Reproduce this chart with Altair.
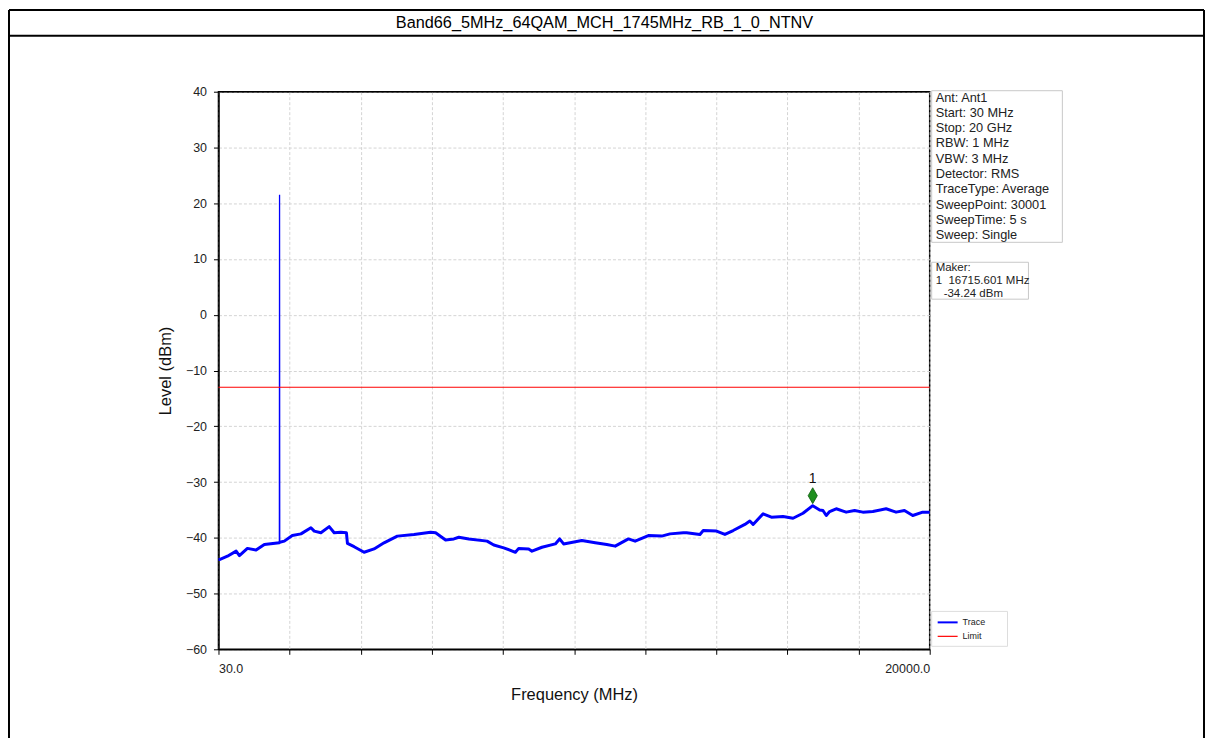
import altair as alt
import pandas as pd

title_text = "Band66_5MHz_64QAM_MCH_1745MHz_RB_1_0_NTNV"

freq_mhz = [30, 58, 282, 526, 618, 842, 1086, 1318, 1740, 1750, 1879, 2103, 2346,
            2626, 2719, 2906, 3139, 3279, 3466, 3623, 3651, 3839, 4119, 4399, 4679, 5052,
            5520, 5987, 6127, 6407, 6640, 6780, 7060, 7573, 7760, 8040, 8368, 8460, 8740,
            8833, 9113, 9488, 9609, 9721, 10233, 10609, 10934, 11169, 11541, 11729, 12101,
            12474, 12709, 13082, 13174, 13549, 13642, 14015, 14250, 14482, 14810, 14950,
            15042, 15322, 15555, 15883, 16163, 16442, 16716, 16910, 17003, 17096, 17191,
            17375, 17655, 17891, 18123, 18403, 18776, 19056, 19291, 19524, 19804, 20000]
level_dbm = [-43.9, -43.9, -43.3, -42.4, -43.2, -41.9, -42.2, -41.2, -40.9, -40.8, -40.6,
             -39.6, -39.3, -38.2, -38.8, -39.1, -38.0, -39.1, -39.0, -39.1, -41.0, -41.6,
             -42.6, -42.0, -40.9, -39.7, -39.4, -39.0, -39.1, -40.4, -40.2, -39.9, -40.2,
             -40.6, -41.3, -41.8, -42.6, -41.9, -42.0, -42.4, -41.7, -41.1, -40.2, -41.1,
             -40.5, -40.9, -41.2, -41.5, -40.2, -40.6, -39.6, -39.7, -39.3, -39.1, -39.1,
             -39.4, -38.7, -38.8, -39.4, -38.7, -37.6, -37.0, -37.6, -35.7, -36.3, -36.2,
             -36.5, -35.6, -34.24, -35.0, -35.1, -36.0, -35.3, -34.8, -35.4, -35.1, -35.4,
             -35.3, -34.8, -35.4, -35.1, -36.0, -35.4, -35.4]

# carrier spike (drawn thinner)
spike_freq = [1740, 1745, 1750]
spike_level = [-40.9, 21.5, -40.8]

limit_dbm = -13
marker_freq = 16715.601
marker_level = -34.24
marker_label = "1"

x_domain = [30, 20000]
y_domain = [-60, 40]
x_ticks = [30, 2027, 4024, 6021, 8018, 10015, 12012, 14009, 16006, 18003, 20000]
y_ticks = [-60, -50, -40, -30, -20, -10, 0, 10, 20, 30, 40]

info_lines = ["Ant: Ant1", "Start: 30 MHz", "Stop: 20 GHz", "RBW: 1 MHz", "VBW: 3 MHz",
              "Detector: RMS", "TraceType: Average", "SweepPoint: 30001",
              "SweepTime: 5 s", "Sweep: Single"]
maker_lines = ["Maker:", "1\u00a0\u00a016715.601 MHz"]
maker_value_line = "-34.24 dBm"
legend_labels = ["Trace", "Limit"]
trace_color = "#0000ff"
limit_color = "#ff0000"

FONT = "Liberation Sans"

trace_df = pd.DataFrame({"freq": freq_mhz, "level": level_dbm})
spike_df = pd.DataFrame({"freq": spike_freq, "level": spike_level})
one = pd.DataFrame({"a": [0]})
limit_df = pd.DataFrame({"freq": x_domain, "level": [limit_dbm, limit_dbm]})
marker_df = pd.DataFrame({"freq": [marker_freq], "level": [marker_level], "label": [marker_label]})

x_enc = alt.X("freq:Q", scale=alt.Scale(domain=x_domain, nice=False, zero=False),
              axis=alt.Axis(values=x_ticks, title="Frequency (MHz)",
                            labelExpr="datum.value == 30 ? '30.0' : (datum.value == 20000 ? '20000.0' : '')",
                            titlePadding=12, labelPadding=8))
y_enc = alt.Y("level:Q", scale=alt.Scale(domain=y_domain, nice=False, zero=False),
              axis=alt.Axis(values=y_ticks, title="Level (dBm)", titlePadding=12, labelPadding=7))

trace = alt.Chart(trace_df).mark_line(color=trace_color, strokeWidth=3, strokeJoin="round").encode(
    x=x_enc, y=y_enc, order="freq:Q")
spike = alt.Chart(spike_df).mark_line(color=trace_color, strokeWidth=1.3).encode(
    x="freq:Q", y="level:Q", order="freq:Q")
limit = alt.Chart(limit_df).mark_line(color=limit_color, strokeWidth=1.2).encode(x="freq:Q", y="level:Q")
mk = alt.Chart(marker_df).mark_point(shape="M0,-1.3L0.75,0L0,1.3L-0.75,0Z", filled=True, size=150,
                                     color="#1f8f1f", stroke="#0d5a0d", strokeWidth=0.8,
                                     yOffset=-10, opacity=1).encode(x="freq:Q", y="level:Q")
mk_txt = alt.Chart(marker_df).mark_text(font=FONT, fontSize=14, color="#111", dy=-27).encode(
    x="freq:Q", y="level:Q", text="label:N")

# outer frame & title row
def rule(x, x2, y, y2, w=2, c="black"):
    return alt.Chart(one).mark_rule(color=c, strokeWidth=w).encode(
        x=alt.value(x), x2=alt.value(x2), y=alt.value(y), y2=alt.value(y2))

frame = [rule(-210, 988, -82, -82), rule(-210, 988, -56, -56),
         rule(-210, -210, -82, 700), rule(988, 988, -82, 700)]
plot_top = rule(0, 713, 0, 0, w=1.5)
title = alt.Chart(one).mark_text(font=FONT, fontSize=16.3, color="black", baseline="alphabetic").encode(
    x=alt.value(387), y=alt.value(-64), text=alt.value(title_text))

# info box
info_box = alt.Chart(one).mark_rect(fill="white", stroke="#c8c8c8", strokeWidth=1).encode(
    x=alt.value(715), x2=alt.value(846), y=alt.value(-1), y2=alt.value(151))
info_txt = alt.Chart(one).mark_text(font=FONT, fontSize=12.8, color="#222", align="left",
                                    baseline="top", lineHeight=15.3).encode(
    x=alt.value(719), y=alt.value(0), text=alt.value(info_lines))
maker_box = alt.Chart(one).mark_rect(fill="white", stroke="#c8c8c8", strokeWidth=1).encode(
    x=alt.value(715), x2=alt.value(812), y=alt.value(171), y2=alt.value(208))
maker_txt = alt.Chart(one).mark_text(font=FONT, fontSize=11.5, color="#222", align="left",
                                     baseline="top", lineHeight=13).encode(
    x=alt.value(719), y=alt.value(171), text=alt.value(maker_lines))
maker_val = alt.Chart(one).mark_text(font=FONT, fontSize=11.5, color="#222", align="left",
                                     baseline="top").encode(
    x=alt.value(727), y=alt.value(197), text=alt.value(maker_value_line))

# legend
leg_box = alt.Chart(one).mark_rect(fill="white", stroke="#dddddd", strokeWidth=1).encode(
    x=alt.value(715), x2=alt.value(791), y=alt.value(521), y2=alt.value(556))
leg = [leg_box,
       rule(721, 741, 532, 532, w=2, c=trace_color),
       rule(721, 741, 546, 546, w=1.2, c=limit_color),
       alt.Chart(one).mark_text(font=FONT, fontSize=9, color="#222", align="left").encode(
           x=alt.value(746), y=alt.value(532), text=alt.value(legend_labels[0])),
       alt.Chart(one).mark_text(font=FONT, fontSize=9, color="#222", align="left").encode(
           x=alt.value(746), y=alt.value(546), text=alt.value(legend_labels[1]))]

chart = alt.layer(trace, spike, limit, mk, mk_txt, plot_top, *frame, title, info_box, info_txt,
                  maker_box, maker_txt, maker_val, *leg).properties(
    width=713, height=559,
    padding={"left": 211, "top": 83, "right": 276, "bottom": 88},
    autosize=alt.AutoSizeParams(type="none"),
    background="white",
).configure_view(stroke="black", strokeWidth=1.5).configure_axis(
    labelFont=FONT, labelFontSize=12.5, labelColor="#222",
    titleFont=FONT, titleFontSize=16.5, titleColor="#111", titleFontWeight="normal",
    domainColor="black", domainWidth=1.5, tickColor="black", tickSize=5, tickWidth=1,
    gridColor="#d4d4d4", gridDash=[3, 2], gridWidth=1,
)

chart.save("out.html", embed_options={"renderer": "svg", "actions": False})
